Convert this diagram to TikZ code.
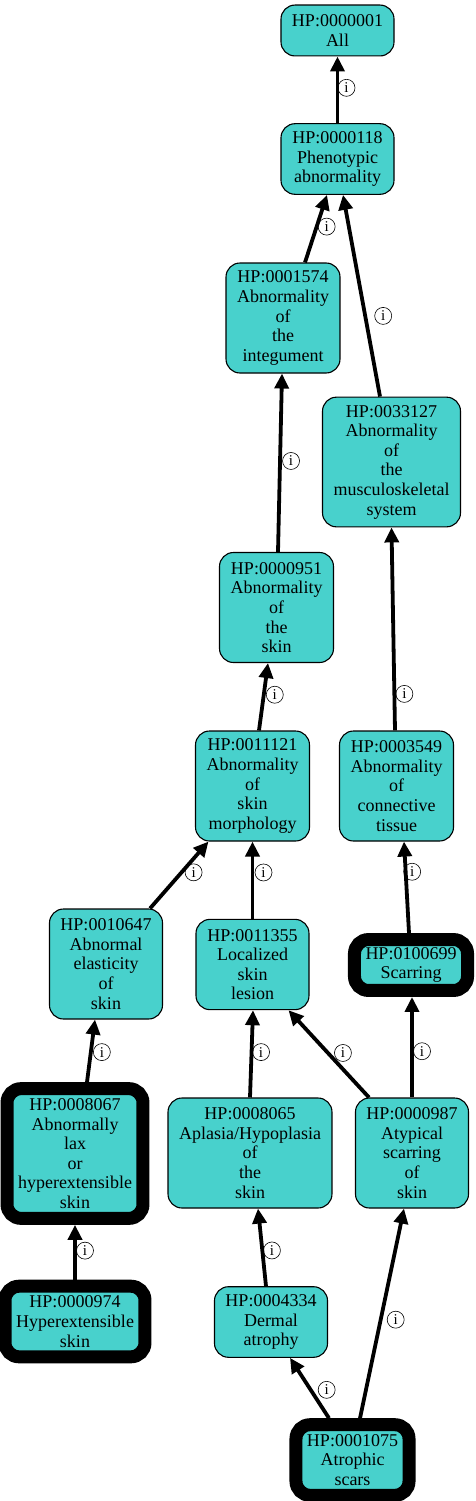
\documentclass[tikz,border=0pt]{standalone}
\usepackage{fontspec}
\setmainfont{Liberation Serif}
\usetikzlibrary{arrows.meta}
\definecolor{termfill}{HTML}{48D1CC}

\begin{document}
\begin{tikzpicture}[x=1pt, y=-1pt,
    term/.style={draw=black, fill=termfill, rounded corners=14pt, line width=1.1pt, align=center,
        inner xsep=11pt, inner ysep=4pt, minimum width=113pt, font=\fontsize{18}{19.6}\selectfont},
    rows/.style={minimum height={11.5pt+19.7pt*#1}},
    query/.style={term, line width=13pt},
    isa/.style={-{Triangle[length=15pt, width=14pt]}, line width=3.8pt},
    info/.style={circle, draw, line width=0.6pt, inner sep=0pt, minimum size=17pt, font=\fontsize{15}{15}\selectfont}]
    \useasboundingbox (0,0) rectangle (475,1501);

    % Ontology terms
    \node[term, rows=2] (n1) at (337.5,30.5) {HP:0000001\\All};
    \node[term, rows=3] (n118) at (337.5,159) {HP:0000118\\Phenotypic\\abnormality};
    \node[term, rows=5] (n1574) at (283,318) {HP:0001574\\Abnormality\\of\\the\\integument};
    \node[term, rows=6] (n33127) at (391.5,462) {HP:0033127\\Abnormality\\of\\the\\musculoskeletal\\system};
    \node[term, rows=5] (n951) at (276.5,607.5) {HP:0000951\\Abnormality\\of\\the\\skin};
    \node[term, rows=5] (n11121) at (252.5,786) {HP:0011121\\Abnormality\\of\\skin\\morphology};
    \node[term, rows=5] (n3549) at (396.5,786) {HP:0003549\\Abnormality\\of\\connective\\tissue};
    \node[term, rows=5] (n10647) at (106,964) {HP:0010647\\Abnormal\\elasticity\\of\\skin};
    \node[term, rows=4] (n11355) at (252.5,964.5) {HP:0011355\\Localized\\skin\\lesion};
    \node[term, rows=5] (n8065) at (250,1153) {HP:0008065\\Aplasia/Hypoplasia\\of\\the\\skin};
    \node[term, rows=5] (n987) at (412,1153) {HP:0000987\\Atypical\\scarring\\of\\skin};
    \node[term, rows=3] (n4334) at (271,1322) {HP:0004334\\Dermal\\atrophy};

    % Query terms (thick border)
    \node[query, rows=2] (n100699) at (411,965) {HP:0100699\\Scarring};
    \node[query, rows=6] (n8067) at (75,1153.5) {HP:0008067\\Abnormally\\lax\\or\\hyperextensible\\skin};
    \node[query, rows=3] (n974) at (75,1321.5) {HP:0000974\\Hyperextensible\\skin};
    \node[query, rows=3] (n1075) at (352.5,1460) {HP:0001075\\Atrophic\\scars};

    % is-a links, child to parent
    \draw[isa] (n118.north) -- (n1.south) node[info, pos=0.53, xshift=9pt] {i};
    \draw[isa] ([xshift=22pt]n1574.north) -- ([xshift=-10.5pt]n118.south) node[info, pos=0.53, xshift=10pt] {i};
    \draw[isa] ([xshift=-11.5pt]n33127.north) -- ([xshift=5.5pt]n118.south) node[info, pos=0.4, xshift=18pt] {i};
    \draw[isa] ([xshift=1.5pt]n951.north) -- ([xshift=-1pt]n1574.south) node[info, pos=0.51, xshift=11pt] {i};
    \draw[isa] ([xshift=6.5pt]n11121.north) -- ([xshift=-8.5pt]n951.south) node[info, pos=0.53, xshift=11pt] {i};
    \draw[isa] ([xshift=-1.5pt]n3549.north) -- (n33127.south) node[info, pos=0.18, xshift=10pt] {i};
    \draw[isa] ([xshift=44pt]n10647.north) -- ([xshift=-44pt]n11121.south) node[info, pos=0.54, xshift=12pt] {i};
    \draw[isa] (n11355.north) -- (n11121.south) node[info, pos=0.6, xshift=11pt] {i};
    \draw[isa] ([xshift=12pt]n8067.north) -- ([xshift=-11pt]n10647.south) node[info, pos=0.48, xshift=11pt] {i};
    \draw[isa] (n8065.north) -- ([xshift=0.5pt]n11355.south) node[info, pos=0.52, xshift=9.5pt] {i};
    \draw[isa] ([xshift=-43pt]n987.north) -- ([xshift=36pt]n11355.south) node[info, pos=0.51, xshift=15pt] {i};
    \draw[isa] (n987.north) -- ([xshift=1pt]n100699.south) node[info, pos=0.46, xshift=10pt] {i};
    \draw[isa] ([xshift=-2pt]n100699.north) -- ([xshift=7.5pt]n3549.south) node[info, pos=0.67, xshift=6.5pt] {i};
    \draw[isa] (n974.north) -- (n8067.south) node[info, pos=0.53, xshift=10pt] {i};
    \draw[isa] ([xshift=-5pt]n4334.north) -- ([xshift=8pt]n8065.south) node[info, pos=0.46, xshift=9.6pt] {i};
    \draw[isa] ([xshift=-23.5pt]n1075.north) -- ([xshift=19pt]n4334.south) node[info, pos=0.47, xshift=16pt] {i};
    \draw[isa] ([xshift=7.5pt]n1075.north) -- ([xshift=-8pt]n987.south) node[info, pos=0.47, xshift=15pt] {i};
\end{tikzpicture}
\end{document}
